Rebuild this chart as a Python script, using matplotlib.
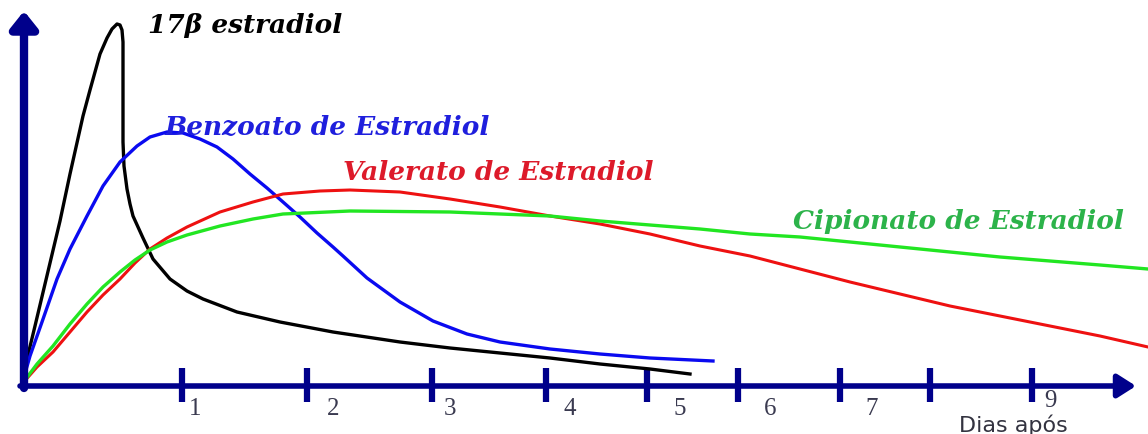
import matplotlib.pyplot as plt

# ---- dados (posição horizontal e nível) ----
estradiol_x = [0, 5, 13, 23, 38, 48, 61, 68, 78, 85, 90, 95, 98, 100, 101, 101, 101, 102, 105,
               108, 111, 121, 131, 148, 165, 181, 215, 258, 311, 378, 428, 478, 528, 578, 628, 668]
estradiol_y = [0, 25, 58, 100, 163, 210, 268, 294, 330, 346, 355, 360, 359, 354, 342, 285, 242, 218, 195,
               180, 168, 146, 125, 105, 93, 85, 72, 62, 52, 42, 36, 31, 26, 20, 15, 10]

benzoato_x = [0, 8, 20, 35, 48, 65, 81, 98, 115, 128, 145, 161, 178, 195, 211, 228, 245, 261,
              278, 295, 311, 321, 345, 378, 411, 445, 478, 528, 578, 628, 691]
benzoato_y = [0, 28, 62, 105, 135, 168, 198, 222, 238, 247, 252, 251, 245, 237, 225, 210, 196, 182,
              167, 151, 137, 128, 106, 82, 63, 50, 42, 35, 30, 26, 23]

valerato_x = [0, 15, 31, 48, 65, 81, 98, 113, 128, 145, 165, 198, 231, 261, 298, 328, 378, 428,
              478, 528, 578, 628, 678, 728, 778, 828, 878, 928, 978, 1028, 1078, 1126]
valerato_y = [0, 17, 32, 52, 72, 89, 105, 121, 135, 146, 157, 172, 182, 190, 193, 194, 192, 185,
              177, 168, 160, 150, 138, 128, 115, 102, 90, 78, 68, 58, 48, 37]

cipionato_x = [0, 15, 31, 48, 65, 81, 98, 113, 128, 145, 165, 198, 231, 261, 328, 428, 528, 578,
               628, 678, 728, 778, 828, 878, 928, 978, 1028, 1078, 1126]
cipionato_y = [0, 20, 38, 60, 80, 97, 112, 124, 134, 142, 149, 158, 165, 170, 173, 172, 168, 163,
               159, 155, 150, 147, 142, 137, 132, 127, 123, 119, 115]

ticks_x = [160, 285, 410, 524, 625, 716, 818, 908, 1010]
dias = ['1', '2', '3', '4', '5', '6', '7', '9']
dias_x = [173, 311, 428, 548, 658, 748, 850, 1028]
dias_y = [-24, -24, -24, -24, -24, -24, -24, -16]

# ---- figura ----
fig = plt.figure(figsize=(11.48, 4.35), dpi=100)
ax = fig.add_axes([0, 0, 1, 1])
ax.set_xlim(-22, 1126)
ax.set_ylim(-50, 385)
ax.axis('off')

navy = '#00008b'

# eixos com setas
ax.annotate('', xy=(1114, -2), xytext=(-2, -2),
            arrowprops=dict(arrowstyle='-|>,head_length=0.55,head_width=0.35', lw=4,
                            color=navy, shrinkA=0, shrinkB=0, mutation_scale=20))
ax.annotate('', xy=(2, 373), xytext=(2, -4),
            arrowprops=dict(arrowstyle='-|>,head_length=0.5,head_width=0.4', lw=6,
                            color=navy, shrinkA=0, shrinkB=0, mutation_scale=20))
ax.vlines(ticks_x, -18, 16, color=navy, lw=4.5)

# curvas
ax.plot(estradiol_x, estradiol_y, color='black', lw=2.4, solid_joinstyle='round')
ax.plot(benzoato_x, benzoato_y, color='#0a0af0', lw=2.4, solid_joinstyle='round')
ax.plot(valerato_x, valerato_y, color='#ee1111', lw=2.2, solid_joinstyle='round')
ax.plot(cipionato_x, cipionato_y, color='#22e622', lw=2.4, solid_joinstyle='round')

rotulo = dict(fontsize=19, family=['DejaVu Serif'], fontweight='bold',
              fontstyle='italic', va='center')
ax.text(126, 360, '17β estradiol', color='black', **rotulo)
ax.text(143, 257, 'Benzoato de Estradiol', color='#1f1fdd', **rotulo)
ax.text(321, 213, 'Valerato de Estradiol', color='#dd1a2a', **rotulo)
ax.text(771, 163, 'Cipionato de Estradiol', color='#2cb34a', **rotulo)

for lab, x, y in zip(dias, dias_x, dias_y):
    ax.text(x, y, lab, color='#3a3a50', fontsize=18, family=['Liberation Serif'],
            ha='center', va='center')

ax.text(991, -47, 'Dias após', color='#333340', fontsize=16, family=['DejaVu Sans'],
        ha='center', va='baseline')

plt.savefig('out.png', dpi=100)
plt.close()
